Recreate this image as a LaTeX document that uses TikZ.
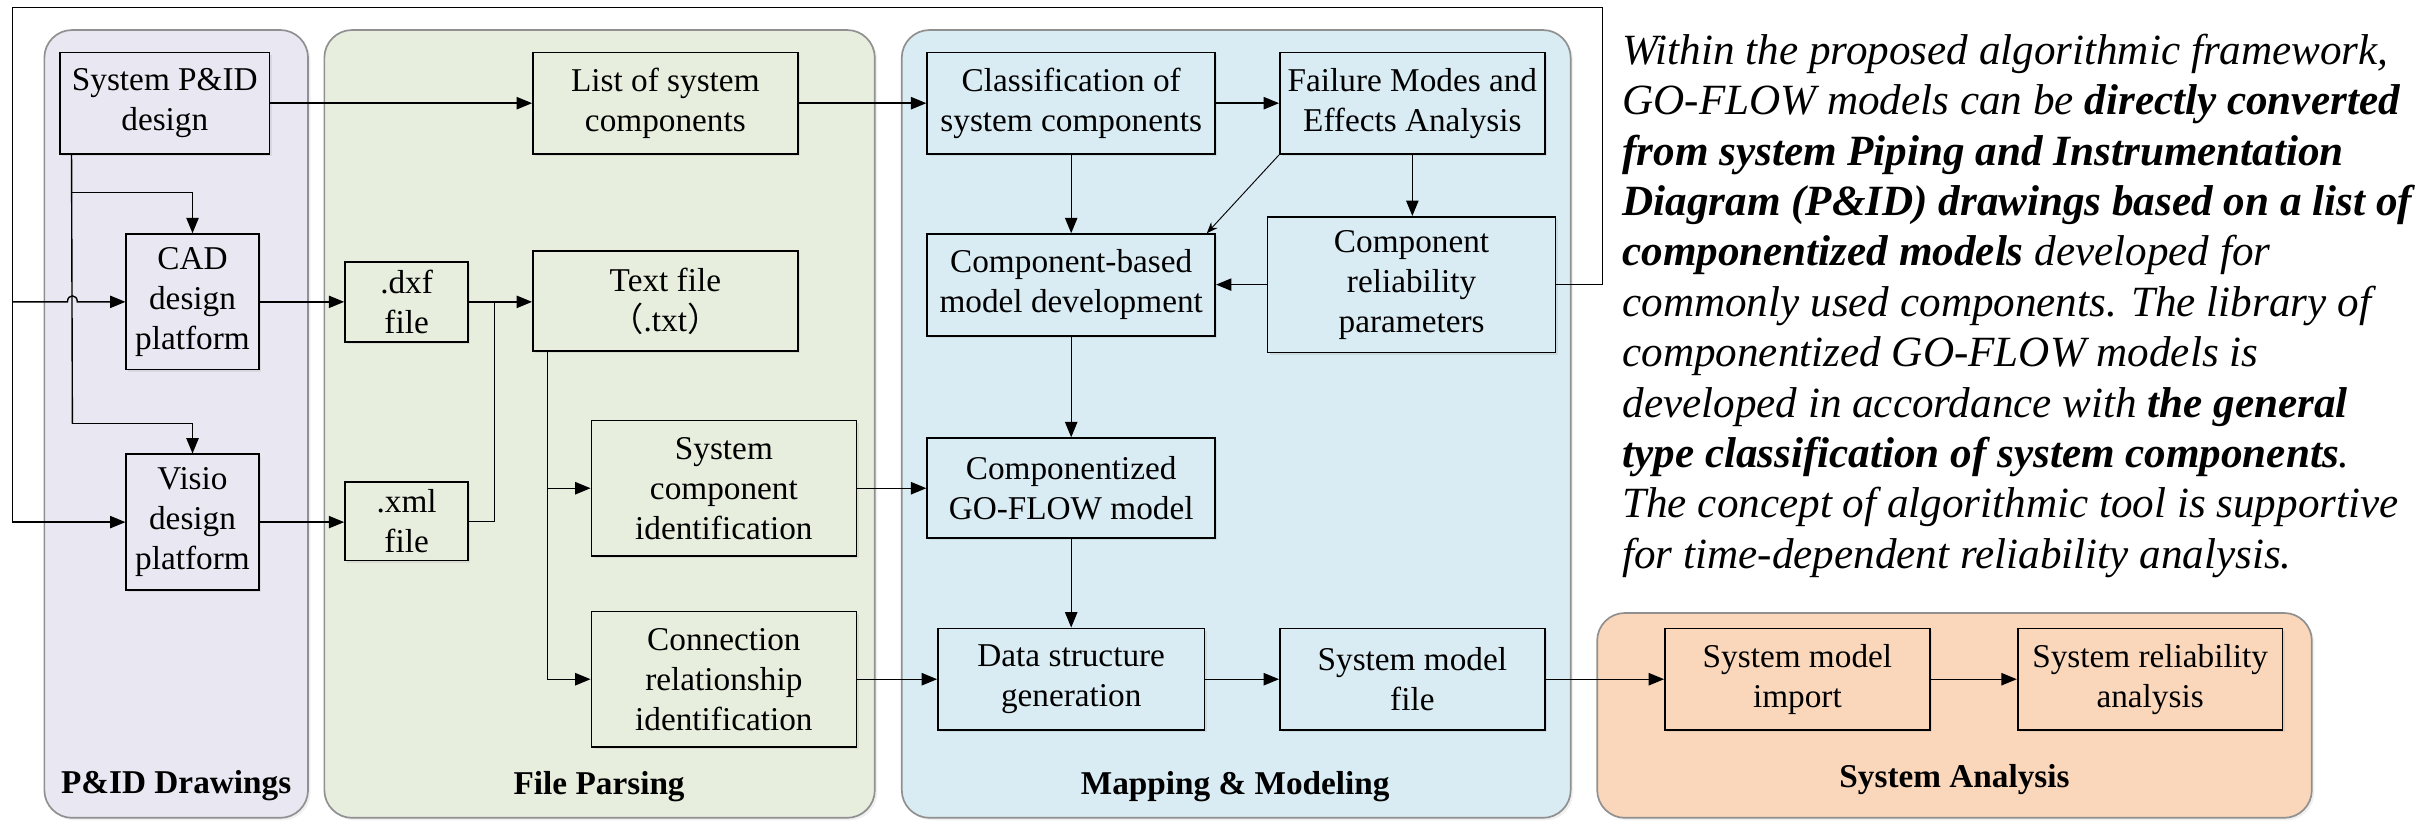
\documentclass[tikz,border=0pt]{standalone}
\usepackage{fontspec}
\setmainfont{Liberation Serif}[
  BoldFont={Liberation Serif Bold},
  ItalicFont={Liberation Serif Italic},
  BoldItalicFont={Liberation Serif Bold Italic}]
\newfontfamily\cjk{Noto Sans CJK SC}
\usetikzlibrary{arrows.meta,shadows}

\definecolor{laneA}{HTML}{E9E7F1}
\definecolor{laneB}{HTML}{E8EEDE}
\definecolor{laneC}{HTML}{DAECF3}
\definecolor{laneD}{HTML}{FAD7BB}
\definecolor{laneedge}{HTML}{909090}

\begin{document}
\begin{tikzpicture}[x=0.5pt,y=-0.5pt,
  lane/.style={draw=laneedge, line width=0.55pt, rounded corners=9pt,
    drop shadow={shadow xshift=0.8pt, shadow yshift=-0.8pt, opacity=0.12}},
  box/.style={draw=black, line width=0.55pt, align=center, inner sep=1pt,
    font=\fontsize{10.8}{13}\selectfont,
    drop shadow={shadow xshift=0.7pt, shadow yshift=-0.7pt, opacity=0.15}},
  boxA/.style={box, fill=laneA},
  boxB/.style={box, fill=laneB},
  boxC/.style={box, fill=laneC},
  boxD/.style={box, fill=laneD},
  sz/.style 2 args={minimum width={#1*0.5pt}, minimum height={#2*0.5pt}},
  lanelabel/.style={font=\fontsize{10.8}{13}\selectfont\bfseries, inner sep=0pt},
  link/.style={line width=0.45pt},
  conn/.style={link, -{Triangle[length=5pt,width=4pt]}},
  thinconn/.style={line width=0.3pt, -{Stealth[length=3.6pt,width=2.8pt]}},
]
\useasboundingbox (0,0) rectangle (1568,533);

% swimlanes
\draw[lane, fill=laneA] (28.8,19.5) rectangle (200,531);
\draw[lane, fill=laneB] (210.6,19.5) rectangle (568,531);
\draw[lane, fill=laneC] (585.5,19.5) rectangle (1019.8,531);
\draw[lane, fill=laneD] (1037,398) rectangle (1501,531);

\node[lanelabel] (labA) at (114.4,510) {P\&ID Drawings};
\node[lanelabel] (labB) at (389,511) {File Parsing};
\node[lanelabel] (labC) at (802,511) {Mapping \& Modeling};
\node[lanelabel] (labD) at (1269,506) {System Analysis};

% P&ID drawings
\node[boxA, sz={136}{66}] (pid)   at (107,67)  {System P\&ID\\design};
\node[boxA, sz={86}{88}]  (cad)   at (125,196) {CAD\\design\\platform};
\node[boxA, sz={86}{88}]  (visio) at (125,339) {Visio\\design\\platform};

% file parsing
\node[boxB, sz={80}{52}]  (dxf)  at (264,196)   {.dxf\\file};
\node[boxB, sz={80}{51}]  (xml)  at (264,338.5) {.xml\\file};
\node[boxB, sz={172}{66}] (list) at (432,67)    {List of system\\components};
\node[boxB, sz={172}{65}] (txt)  at (432,195.5) {Text file\\{\cjk （}.txt{\cjk ）}};
\node[boxB, sz={172}{88}] (scid) at (470,317)   {System\\component\\identification};
\node[boxB, sz={172}{88}] (crid) at (470,441)   {Connection\\relationship\\identification};

% mapping & modeling
\node[boxC, sz={187}{66}] (classif) at (695.5,67)    {Classification of\\system components};
\node[boxC, sz={172}{66}] (fmea)    at (917,67)      {Failure Modes and\\Effects Analysis};
\node[boxC, sz={187}{66}] (cbmd)    at (695.5,185)   {Component-based\\model development};
\node[boxC, sz={187}{88}] (crp)     at (916.5,184.8) {Component\\reliability\\parameters};
\node[boxC, sz={187}{65}] (cgo)     at (695.5,317)   {Componentized\\GO-FLOW model};
\node[boxC, sz={173}{66}] (dsg)     at (695.5,441)   {Data structure\\generation};
\node[boxC, sz={172}{66}] (smf)     at (917,441)     {System model\\file};

% system analysis
\node[boxD, sz={172}{66}] (smi) at (1167,441) {System model\\import};
\node[boxD, sz={172}{66}] (sra) at (1396,441) {System reliability\\analysis};

% routing points
\coordinate (loopR) at (1040.6,4.8);
\coordinate (loopL) at (8.2,4.8);
\coordinate (trunkA) at (47,125);
\coordinate (trunkB) at (47,275);
\coordinate (hopL) at (43.8,196);
\coordinate (hopR) at (50.2,196);
\coordinate (merge) at (321,196);

% P&ID drawings connectors
\draw[link] ([xshift=4pt]pid.south west) -- (trunkB);
\draw[conn] (trunkA) -| (cad.north);
\draw[conn] (trunkB) -| (visio.north);
\draw[conn] (pid.east) -- (list.west);
\draw[conn] (crp.east) -| (loopR) -- (loopL) |- (visio.west);
\draw[conn] (loopL |- cad.west) -- (hopL) .. controls ([yshift=2.6pt]hopL) and ([yshift=2.6pt]hopR) .. (hopR) -- (cad.west);
\draw[conn] (cad.east) -- (cad.east -| dxf.west);
\draw[conn] (visio.east) -- (visio.east -| xml.west);

% file parsing connectors
\draw[conn] (dxf.east) -- (dxf.east -| txt.west);
\draw[link] (xml.east) -| (merge);
\draw[conn] ([xshift=5pt]txt.south west) |- (scid.west);
\draw[conn] ([xshift=5pt]txt.south west) |- (crid.west);
\draw[conn] (list.east) -- (classif.west);
\draw[conn] (scid.east) -- (scid.east -| cgo.west);
\draw[conn] (crid.east) -- (crid.east -| dsg.west);

% mapping & modeling connectors
\draw[conn] (classif) -- (fmea);
\draw[conn] (classif) -- (cbmd);
\draw[conn] (fmea.south) -- (fmea.south |- crp.north);
\draw[thinconn] (fmea.south west) -- ([xshift=-3pt]cbmd.north east);
\draw[conn] (crp.west) -- (crp.west -| cbmd.east);
\draw[conn] (cbmd) -- (cgo);
\draw[conn] (cgo) -- (dsg);
\draw[conn] (dsg) -- (smf);
\draw[conn] (smf) -- (smi);
\draw[conn] (smi) -- (sra);

% description
\node[anchor=north west, align=left, inner sep=0pt,
      font=\fontsize{14}{16.35}\selectfont\itshape] (desc) at (1053,21.5)
{\rule{0pt}{10pt}Within the proposed algorithmic framework,\\
GO-FLOW models can be \textbf{directly converted}\\
\textbf{from system Piping and Instrumentation}\\
\textbf{Diagram (P\&ID) drawings based on a list of}\\
\textbf{componentized models} developed for\\
commonly used components. The library of\\
componentized GO-FLOW models is\\
developed in accordance with \textbf{the general}\\
\textbf{type classification of system components}.\\
The concept of algorithmic tool is supportive\\
for time-dependent reliability analysis.};
\end{tikzpicture}
\end{document}
